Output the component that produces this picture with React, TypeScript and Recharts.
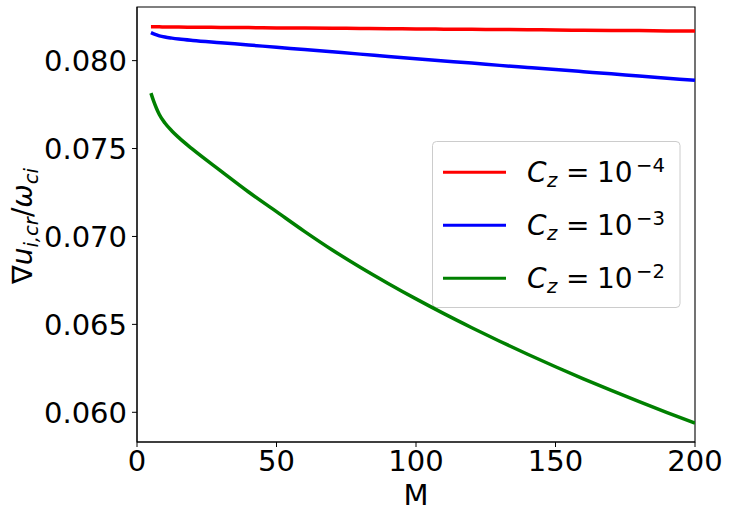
import { LineChart, Line, XAxis, YAxis, ReferenceArea, Customized } from 'recharts';

// M (mass number) sample points
const M_VALUES = [5, 6, 7, 8, 10, 12.5, 15, 20, 30, 40, 50, 60, 70, 80, 90, 100, 110, 120, 130, 140, 150, 160, 170, 180, 190, 200];

// C_z = 1e-4
const RED = [0.08192, 0.08192, 0.08192, 0.08192, 0.08191, 0.08191, 0.08191, 0.0819, 0.08189, 0.08188, 0.08186, 0.08185, 0.08184, 0.08183, 0.08182, 0.0818, 0.08179, 0.08178, 0.08177, 0.08176, 0.08174, 0.08173, 0.08172, 0.08171, 0.08169, 0.08168];
// C_z = 1e-3
const BLUE = [0.08159, 0.08152, 0.08146, 0.08141, 0.08134, 0.08128, 0.08123, 0.08115, 0.08102, 0.08089, 0.08076, 0.08063, 0.0805, 0.08037, 0.08023, 0.0801, 0.07998, 0.07986, 0.07973, 0.07961, 0.07949, 0.07937, 0.07925, 0.07912, 0.079, 0.07888];
// C_z = 1e-2
const GREEN = [0.07815, 0.07768, 0.07728, 0.07694, 0.07645, 0.076, 0.07562, 0.07495, 0.07373, 0.07253, 0.07141, 0.07029, 0.06923, 0.06825, 0.06733, 0.06645, 0.06561, 0.06481, 0.06404, 0.0633, 0.06259, 0.0619, 0.06124, 0.0606, 0.05998, 0.05938];

const SERIES = [
  { key: 'red', color: '#ff0000', exp: '−4' },
  { key: 'blue', color: '#0000ff', exp: '−3' },
  { key: 'green', color: '#008000', exp: '−2' },
];

const X_TICKS = [0, 50, 100, 150, 200];
const Y_TICKS = [0.06, 0.065, 0.07, 0.075, 0.08];
const Y_MIN = 0.05831;
const Y_MAX = 0.08305;

const rows = M_VALUES.map((m, i) => ({ m, red: RED[i], blue: BLUE[i], green: GREEN[i] }));

const FONT = '"DejaVu Sans", sans-serif';

// y-axis label: ∇u_{i,cr}/ω_{ci}
function YLabel() {
  const cx = 32;
  const cy = 226;
  return (
    <text
      x={cx}
      y={cy}
      transform={`rotate(-90 ${cx} ${cy})`}
      textAnchor="middle"
      fontFamily={FONT}
      fontSize={28}
      fill="#000"
    >
      ∇<tspan fontStyle="italic">u</tspan>
      <tspan fontStyle="italic" fontSize={19.6} dy={6}>i,cr</tspan>
      <tspan dy={-6}>/</tspan>
      <tspan fontStyle="italic">ω</tspan>
      <tspan fontStyle="italic" fontSize={19.6} dy={6}>ci</tspan>
    </text>
  );
}

function LegendBox() {
  return (
    <g fontFamily={FONT} fill="#000">
      <rect x={432.5} y={141.5} width={247.5} height={166} rx={4} fill="#fff" fillOpacity={0.8} stroke="#cccccc" />
      {SERIES.map((s, i) => {
        const ly = 172.3 + 53 * i;
        const base = ly + 9.5;
        return (
          <g key={s.key}>
            <line x1={443} x2={506} y1={ly} y2={ly} stroke={s.color} strokeWidth={3} />
            <text x={527} y={base} fontSize={28} fontStyle="italic">C</text>
            <text x={547} y={base + 5.5} fontSize={19.6} fontStyle="italic">z</text>
            <text x={566} y={base} fontSize={28}>=</text>
            <text x={597} y={base} fontSize={28}>10</text>
            <text x={636} y={base - 10} fontSize={19.6}>{s.exp}</text>
          </g>
        );
      })}
    </g>
  );
}

export default function App() {
  return (
    <div style={{ position: 'absolute', left: 0, top: 0, background: '#fff' }}>
      <LineChart width={730} height={518} data={rows} margin={{ top: 7, right: 35, bottom: 0, left: 0 }}>
        <XAxis
          dataKey="m"
          type="number"
          domain={[0, 200]}
          ticks={X_TICKS}
          allowDataOverflow
          height={76}
          tickSize={5}
          tickMargin={3.5}
          stroke="#000"
          tick={{ fill: '#000', fontSize: 29, fontFamily: FONT }}
          label={{ value: 'M', position: 'insideBottom', offset: 13, fill: '#000', fontSize: 29, fontFamily: FONT }}
        />
        <YAxis
          type="number"
          domain={[Y_MIN, Y_MAX]}
          ticks={Y_TICKS}
          allowDataOverflow
          width={137}
          tickSize={5}
          tickMargin={5}
          stroke="#000"
          tick={{ fill: '#000', fontSize: 29, fontFamily: FONT }}
          tickFormatter={(v: number) => v.toFixed(3)}
        />
        <ReferenceArea x1={0} x2={200} y1={Y_MIN} y2={Y_MAX} fill="none" stroke="#000" strokeWidth={1.1} />
        {SERIES.map((s) => (
          <Line
            key={s.key}
            dataKey={s.key}
            type="monotone"
            stroke={s.color}
            strokeWidth={3.5}
            dot={false}
            isAnimationActive={false}
          />
        ))}
        <Customized component={YLabel} />
        <Customized component={LegendBox} />
      </LineChart>
    </div>
  );
}
